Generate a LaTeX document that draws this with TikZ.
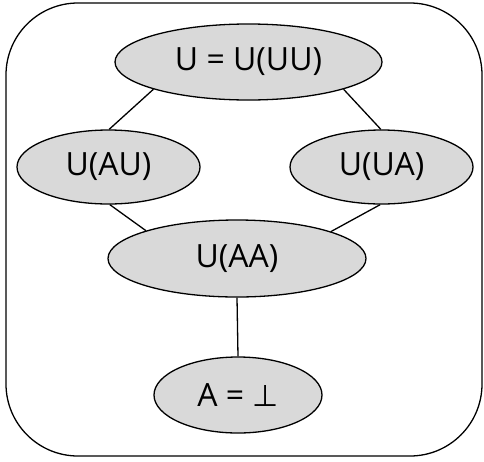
\documentclass[tikz,border=0pt]{standalone}
\usepackage{fontspec}
\setmainfont{Open Sans}
\newfontfamily\symfont{DejaVu Sans}
\usetikzlibrary{shapes.geometric}
\begin{document}
\begin{tikzpicture}[x=1pt,y=-1pt,
  lat/.style={ellipse,draw=black,line width=1.3pt,fill=gray!30,inner sep=0pt,
    font=\fontsize{32}{38}\selectfont},
  edge/.style={draw=black,line width=1.3pt}]
\useasboundingbox (0,0) rectangle (484,461);
\draw[line width=1.3pt,rounded corners=72pt] (6,3) rectangle (482,456);
\node[lat,minimum width=267pt,minimum height=76pt] (top) at (248.5,62) {U = U(UU)};
\node[lat,minimum width=183pt,minimum height=74pt] (au) at (108.5,167) {U(AU)};
\node[lat,minimum width=183pt,minimum height=74pt] (ua) at (381.5,167) {U(UA)};
\node[lat,minimum width=258pt,minimum height=77pt] (aa) at (237,258.5) {U(AA)};
\node[lat,minimum width=168pt,minimum height=76pt] (bot) at (238,395) {A = {\symfont\fontsize{30}{36}\selectfont ⊥}};
\draw[edge] (top.196.5) -- (au.89);
\draw[edge] (top.-16) -- (ua.91);
\draw[edge] (au.-88) -- (aa.163.6);
\draw[edge] (ua.-92) -- (aa.16.2);
\draw[edge] (aa.south) -- (bot.north);
\end{tikzpicture}
\end{document}
